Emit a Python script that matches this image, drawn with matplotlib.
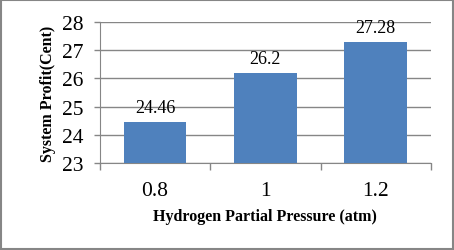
import matplotlib
matplotlib.use("Agg")
import matplotlib.pyplot as plt
from matplotlib.patches import Rectangle

pressures = ["0.8", "1", "1.2"]
profits = [24.46, 26.2, 27.28]
y_ticks = [23, 24, 25, 26, 27, 28]

plt.rcParams['font.family'] = ['Liberation Serif', 'DejaVu Serif']

fig = plt.figure(figsize=(4.54, 2.51), dpi=100)
ax = fig.add_axes([0.220, 0.347, 0.729, 0.561])

x = range(len(pressures))
bars = ax.bar(x, profits, width=0.57, color="#4F81BD", zorder=3)

ax.set_ylim(23, 28)
ax.set_xlim(-0.5, 2.5)
ax.set_yticks(y_ticks)
ax.set_yticklabels([str(t) for t in y_ticks], fontsize=15.5)
ax.yaxis.grid(True, color="#868686", linewidth=1, zorder=0)

# category tick marks at the boundaries, labels at centres
ax.set_xticks([-0.5, 0.5, 1.5, 2.5])
ax.set_xticklabels([])
ax.set_xticks(list(x), minor=True)
ax.set_xticklabels(pressures, minor=True, fontsize=15.5)
ax.tick_params(axis="x", which="major", length=5, color="#868686", width=1)
ax.tick_params(axis="x", which="minor", length=0, pad=13)
ax.tick_params(axis="y", length=4, color="#868686", width=1, pad=8)

for side in ["top", "right"]:
    ax.spines[side].set_visible(False)
for side in ["left", "bottom"]:
    ax.spines[side].set_color("#868686")

for xi, v in zip(x, profits):
    ax.text(xi, v + 0.22, str(v), ha="center", va="bottom", fontsize=13)

ax.set_ylabel("System Profit(Cent)", fontsize=11.5, fontweight="bold", labelpad=4)
ax.set_xlabel("Hydrogen Partial Pressure (atm)", fontsize=11.5, fontweight="bold", labelpad=6)

fig.patches.append(Rectangle((0.002, 0.004), 0.995, 0.992, transform=fig.transFigure,
                             fill=False, edgecolor="#868686", linewidth=1.5))

fig.savefig("out.png", dpi=100)
